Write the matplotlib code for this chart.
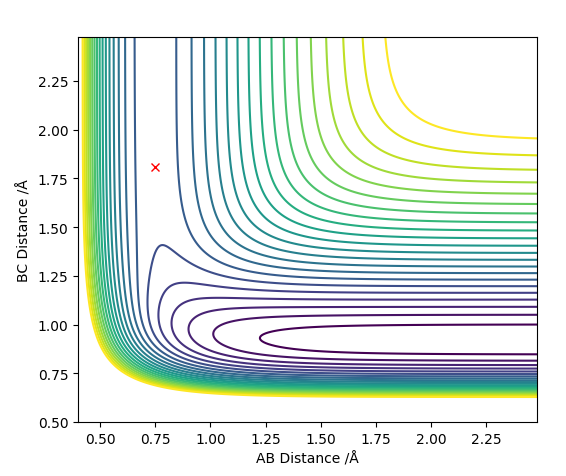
import numpy as np
import matplotlib
matplotlib.use("Agg")
import matplotlib.pyplot as plt

# LEPS surface for collinear H-H-F (A=H, B=H, C=F), energies in eV
# pair parameters: well depth, Morse beta (1/A), equilibrium distance (A), Sato parameter
D_HH, beta_HH, re_HH, sato_HH = 4.746, 1.942, 0.742, 0.19
D_HF, beta_HF, re_HF, sato_HF = 6.125, 2.2187, 0.917, 0.19

# grid of distances
r_ab = np.linspace(0.40, 2.48, 417)
r_bc = np.linspace(0.50, 2.475, 396)

# contour levels (eV)
levels = np.arange(-5.95, -1.10, 0.227)

# marked point
point_ab = [0.75]
point_bc = [1.807]


def q_and_j(r, D, beta, re, k):
    u = np.exp(-beta * (r - re))
    e1 = D * (u**2 - 2 * u)
    e3 = 0.5 * D * (u**2 + 2 * u) * (1 - k) / (1 + k)
    return 0.5 * (e1 + e3), 0.5 * (e1 - e3)


def leps(ab, bc):
    ac = ab + bc
    q1, j1 = q_and_j(ab, D_HH, beta_HH, re_HH, sato_HH)
    q2, j2 = q_and_j(bc, D_HF, beta_HF, re_HF, sato_HF)
    q3, j3 = q_and_j(ac, D_HF, beta_HF, re_HF, sato_HF)
    root = np.sqrt(0.5 * ((j1 - j2)**2 + (j2 - j3)**2 + (j3 - j1)**2))
    return q1 + q2 + q3 - root


X, Y = np.meshgrid(r_ab, r_bc)
V = leps(X, Y)

fig = plt.figure(figsize=(5.66, 4.77), dpi=100)
ax = fig.add_axes([78 / 566, 54 / 477, 459 / 566, 385 / 477])
ax.contour(X, Y, V, levels=levels, cmap='viridis')
ax.plot(point_ab, point_bc, 'rx')
ax.set_xlabel('AB Distance /Å')
ax.set_ylabel('BC Distance /Å')
ax.set_xticks([0.5, 0.75, 1.0, 1.25, 1.5, 1.75, 2.0, 2.25])
ax.set_yticks([0.5, 0.75, 1.0, 1.25, 1.5, 1.75, 2.0, 2.25])

fig.savefig('out.png', dpi=100)
